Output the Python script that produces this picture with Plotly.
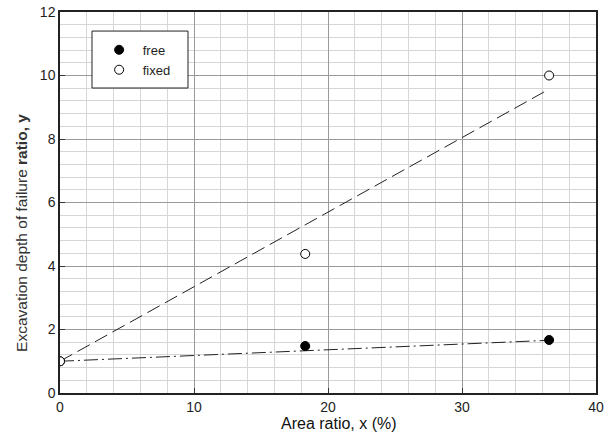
import plotly.graph_objects as go

# Measured points: area ratio (%) vs. excavation depth of failure ratio
area_ratio = [0.0, 18.3, 36.5]
free_ratio = [1.0, 1.48, 1.67]
fixed_ratio = [1.0, 4.38, 10.0]

# Trend lines (end points)
fit_x = [0.0, 36.5]
free_fit_y = [1.0, 1.66]
fixed_fit_y = [1.0, 9.57]

FONT = "Liberation Sans, Arial, sans-serif"
INK = "#1e1e1e"

fig = go.Figure()

fig.add_trace(go.Scatter(
    x=fit_x, y=fixed_fit_y, mode="lines", showlegend=False,
    line=dict(color="#222222", width=1, dash="14px,6px"), hoverinfo="skip"))
fig.add_trace(go.Scatter(
    x=fit_x, y=free_fit_y, mode="lines", showlegend=False,
    line=dict(color="#222222", width=1, dash="14px,4px,2px,4px"), hoverinfo="skip"))

fig.add_trace(go.Scatter(
    x=area_ratio, y=free_ratio, mode="markers", name=" free",
    marker=dict(symbol="circle", size=9, color="black",
                line=dict(color="black", width=1))))
fig.add_trace(go.Scatter(
    x=area_ratio, y=fixed_ratio, mode="markers", name=" fixed",
    marker=dict(symbol="circle", size=9, color="white",
                line=dict(color="black", width=1))))

axis_common = dict(
    showline=True, linecolor="#222222", linewidth=1.5, mirror=True,
    ticks="inside", ticklen=5, tickcolor="#333333", tickwidth=1,
    gridcolor="#9a9a9a", gridwidth=1, zeroline=False, automargin=False,
    tickfont=dict(family=FONT, size=14, color=INK),
)

fig.update_xaxes(
    range=[0, 40], dtick=10, tick0=0,
    minor=dict(dtick=2, showgrid=True, gridcolor="#d6d6d6", gridwidth=1, ticks=""),
    **axis_common)
fig.update_yaxes(
    range=[0, 12], dtick=2, tick0=0,
    minor=dict(dtick=0.4, showgrid=True, gridcolor="#d6d6d6", gridwidth=1, ticks=""),
    **axis_common)

# Axis titles
fig.add_annotation(
    text="Area ratio, x (%)", xref="paper", yref="paper",
    x=0.52, y=-0.081, xanchor="center", yanchor="middle", showarrow=False,
    font=dict(family=FONT, size=16, color="#111111"))
fig.add_annotation(
    text="Excavation depth of failure <b>ratio, y</b>", xref="paper", yref="paper",
    x=-0.071, y=0.42, xanchor="center", yanchor="middle", textangle=-90,
    showarrow=False, font=dict(family=FONT, size=15.5, color="#333333"))

# Legend frame
fig.add_shape(
    type="rect", xref="paper", yref="paper",
    x0=0.0597, x1=0.2388, y0=0.8005, y1=0.950,
    line=dict(color="#222222", width=1), fillcolor="white", layer="above")

fig.update_layout(
    width=605, height=439,
    margin=dict(l=60, r=9, t=12, b=46),
    plot_bgcolor="white", paper_bgcolor="white",
    font=dict(family=FONT, size=14, color=INK),
    showlegend=True,
    legend=dict(
        x=0.073, y=0.94, xanchor="left", yanchor="top",
        bgcolor="rgba(0,0,0,0)", borderwidth=0,
        font=dict(family=FONT, size=13, color=INK),
        itemwidth=30, tracegroupgap=0,
    ),
)

fig.write_html("out.html")
